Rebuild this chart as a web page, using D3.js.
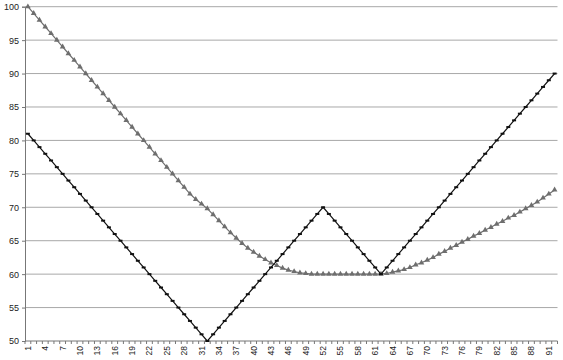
<!DOCTYPE html>
<html>
<head>
<meta charset="utf-8">
<script src="https://cdn.jsdelivr.net/npm/d3@7"></script>
<style>
  body { margin: 0; background: #fff; }
  text { font-family: "Liberation Sans", Arial, sans-serif; fill: #222; }
</style>
</head>
<body>
<div id="chart"></div>
<script>
// ---------------------------------------------------------------------------
// DATA
// ---------------------------------------------------------------------------
const categories = d3.range(1, 93);   // 1 .. 92

// black series (small dash markers)
const seriesBlack = [
  81, 80, 79, 78, 77, 76, 75, 74, 73, 72, 71, 70, 69, 68, 67, 66,
  65, 64, 63, 62, 61, 60, 59, 58, 57, 56, 55, 54, 53, 52, 51, 50,
  51, 52, 53, 54, 55, 56, 57, 58, 59, 60, 61, 62, 63, 64, 65, 66, 67, 68, 69, 70,
  69, 68, 67, 66, 65, 64, 63, 62, 61, 60,
  61, 62, 63, 64, 65, 66, 67, 68, 69, 70, 71, 72, 73, 74, 75,
  76, 77, 78, 79, 80, 81, 82, 83, 84, 85, 86, 87, 88, 89, 90
];

// grey series (triangle markers)
const seriesGrey = [
  100, 99, 98, 97, 96, 95, 94, 93, 92, 91, 90, 89, 88, 87, 86, 85, 84, 83, 82,
  81, 80, 79, 78, 77, 76, 75, 74,
  73.0, 72.0, 71.2, 70.5, 69.8, 68.9, 68.0, 67.1, 66.2, 65.4, 64.6, 63.9, 63.3,
  62.7, 62.2, 61.7, 61.3, 60.9, 60.6, 60.4, 60.2, 60.1,
  60, 60, 60, 60, 60, 60, 60, 60, 60, 60, 60, 60, 60,
  60.1, 60.3, 60.5, 60.7, 61.0, 61.4, 61.7, 62.1, 62.5, 63.0, 63.4, 63.9, 64.3,
  64.8, 65.2, 65.7, 66.1, 66.6, 67.0, 67.5, 67.9, 68.4, 68.8, 69.3, 69.8, 70.3,
  70.8, 71.4, 72.0, 72.6
];

const yTicks = [50, 55, 60, 65, 70, 75, 80, 85, 90, 95, 100];
const xTickLabels = d3.range(1, 93, 3);   // 1, 4, 7 ... 91

// ---------------------------------------------------------------------------
// LAYOUT
// ---------------------------------------------------------------------------
const W = 563, H = 360;
const plot = { left: 25, right: 557.5, top: 6.7, bottom: 341 };

const svg = d3.select('#chart')
  .append('svg')
  .attr('width', W)
  .attr('height', H);

// scales
const x = d3.scaleBand()
  .domain(categories)
  .range([plot.left, plot.right])
  .padding(0);

const y = d3.scaleLinear()
  .domain([50, 100])
  .range([plot.bottom, plot.top]);

const cx = d => x(d) + x.bandwidth() / 2;

// gridlines
svg.append('g')
  .selectAll('line')
  .data(yTicks.filter(v => v > 50))
  .join('line')
  .attr('x1', plot.left)
  .attr('x2', plot.right)
  .attr('y1', d => y(d))
  .attr('y2', d => y(d))
  .attr('stroke', '#a8a8a8')
  .attr('stroke-width', 1);

// y axis
const yAxis = svg.append('g')
  .attr('transform', `translate(${plot.left},0)`)
  .call(d3.axisLeft(y).tickValues(yTicks).tickSize(3).tickPadding(3));
yAxis.select('.domain').attr('stroke', '#777');
yAxis.selectAll('.tick line').attr('stroke', '#777');
yAxis.selectAll('text').style('font-size', '9px');

// x axis: tick marks at band boundaries, labels every 3rd category
const xAxisG = svg.append('g');
xAxisG.append('line')
  .attr('x1', plot.left).attr('x2', plot.right)
  .attr('y1', plot.bottom).attr('y2', plot.bottom)
  .attr('stroke', '#777');
xAxisG.selectAll('.xt')
  .data(categories.concat([null]))
  .join('line')
  .attr('class', 'xt')
  .attr('x1', (d, i) => plot.left + i * x.bandwidth())
  .attr('x2', (d, i) => plot.left + i * x.bandwidth())
  .attr('y1', plot.bottom)
  .attr('y2', plot.bottom + 3)
  .attr('stroke', '#777');
xAxisG.selectAll('text')
  .data(xTickLabels)
  .join('text')
  .attr('transform', d => `translate(${cx(d) + 3},${plot.bottom + 5}) rotate(-90)`)
  .attr('text-anchor', 'end')
  .style('font-size', '8.5px')
  .text(d => d);

// lines
const line = d3.line()
  .x((d, i) => cx(categories[i]))
  .y(d => y(d));

svg.append('path')
  .datum(seriesGrey)
  .attr('fill', 'none')
  .attr('stroke', '#6e6e6e')
  .attr('stroke-width', 1.2)
  .attr('d', line);

svg.append('g')
  .selectAll('path')
  .data(seriesGrey)
  .join('path')
  .attr('d', d3.symbol(d3.symbolTriangle, 14))
  .attr('transform', (d, i) => `translate(${cx(categories[i])},${y(d)})`)
  .attr('fill', '#6e6e6e');

svg.append('path')
  .datum(seriesBlack)
  .attr('fill', 'none')
  .attr('stroke', '#111')
  .attr('stroke-width', 1.2)
  .attr('d', line);

svg.append('g')
  .selectAll('rect')
  .data(seriesBlack)
  .join('rect')
  .attr('x', (d, i) => cx(categories[i]) - 2)
  .attr('y', d => y(d) - 1)
  .attr('width', 4)
  .attr('height', 2)
  .attr('fill', '#111');
</script>
</body>
</html>
